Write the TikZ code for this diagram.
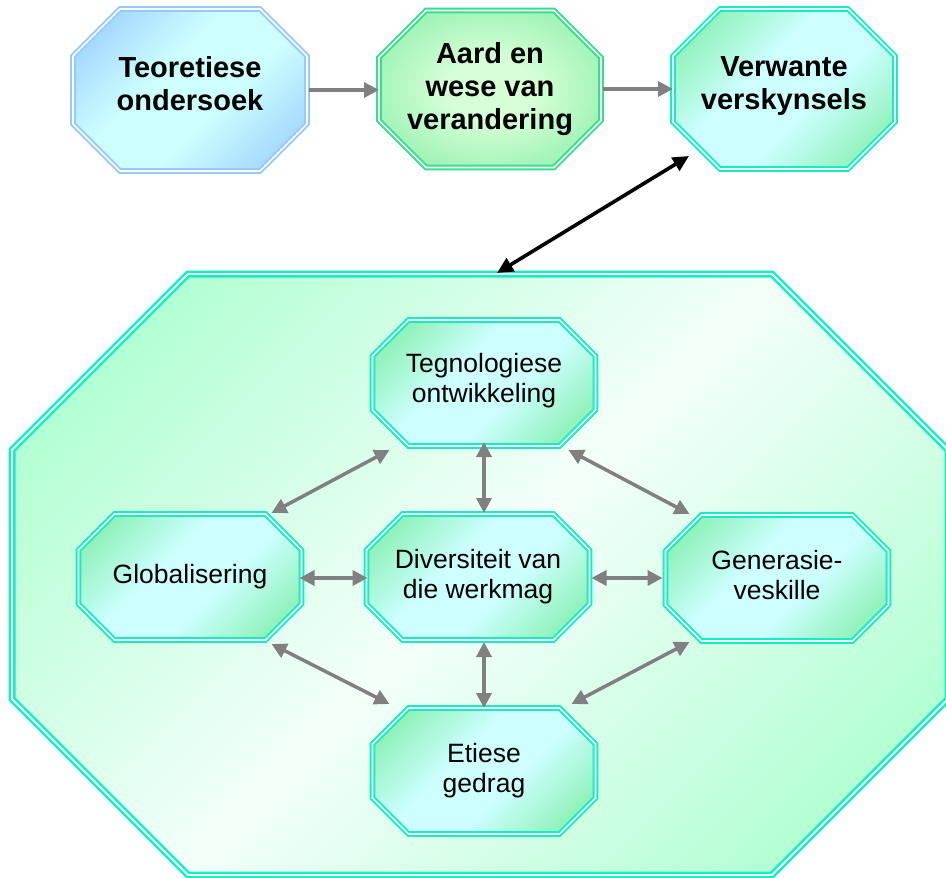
\documentclass[tikz,border=0pt]{standalone}
\usepackage{fontspec}
\setmainfont{Liberation Sans}
\usetikzlibrary{arrows.meta,calc,backgrounds}

% palette
\definecolor{turq}{RGB}{16,240,196}
\definecolor{leafline}{RGB}{52,224,140}
\definecolor{blueline}{RGB}{150,202,252}
\definecolor{blueedge}{RGB}{150,200,255}
\definecolor{bluemid}{RGB}{205,255,255}
\definecolor{greenedge}{RGB}{120,236,160}
\definecolor{cyanmid}{RGB}{205,255,255}
\definecolor{leafedge}{RGB}{138,238,170}
\definecolor{leafmid}{RGB}{214,255,214}
\definecolor{paneledge}{RGB}{172,255,208}
\definecolor{panelmid}{RGB}{244,255,250}
\definecolor{arrowgray}{RGB}{128,128,128}

% diagonal fills: edge colour in two opposite corners, light band across the middle
\pgfdeclarehorizontalshading{bluefill}{100bp}{color(0bp)=(blueedge); color(15bp)=(blueedge); color(42bp)=(bluemid); color(58bp)=(bluemid); color(85bp)=(blueedge); color(100bp)=(blueedge)}
\pgfdeclarehorizontalshading{greenfill}{100bp}{color(0bp)=(greenedge); color(15bp)=(greenedge); color(42bp)=(cyanmid); color(58bp)=(cyanmid); color(85bp)=(greenedge); color(100bp)=(greenedge)}
\pgfdeclarehorizontalshading{panelfill}{100bp}{color(0bp)=(paneledge); color(20bp)=(paneledge); color(50bp)=(panelmid); color(80bp)=(paneledge); color(100bp)=(paneledge)}
% soft glow: pale centre, green rim
\pgfdeclareradialshading{leafglow}{\pgfpoint{0bp}{0bp}}{color(0bp)=(leafmid); color(10bp)=(leafmid); color(34bp)=(leafedge); color(50bp)=(leafedge)}

% octagon outline around a named rectangle node: style, node, corner cut
\newcommand{\octframe}[3]{%
  \path[#1] ($(#2.north west)+(#3,0)$) -- ($(#2.north east)+(-#3,0)$)
    -- ($(#2.north east)+(0,#3)$) -- ($(#2.south east)+(0,-#3)$)
    -- ($(#2.south east)+(-#3,0)$) -- ($(#2.south west)+(#3,0)$)
    -- ($(#2.south west)+(0,-#3)$) -- ($(#2.north west)+(0,#3)$) -- cycle;}

\tikzset{
  box/.style={rectangle, inner sep=0pt, outer sep=0pt, align=center, text=black},
  headbox/.style={box, font=\bfseries\fontsize{29pt}{33pt}\selectfont},
  itembox/.style={box, font=\fontsize{26.5pt}{30pt}\selectfont, minimum width=223pt, minimum height=126pt},
  frameline/.style={line width=2pt, double=white, double distance=1.6pt, line join=miter},
  bluefr/.style={frameline, draw=blueline, shading=bluefill, shading angle=-45},
  leaffr/.style={frameline, draw=leafline, shading=leafglow},
  greenfr/.style={frameline, draw=turq, shading=greenfill, shading angle=-45},
  panelfr/.style={line width=2.6pt, double=white, double distance=1.8pt, draw=turq, shading=panelfill, shading angle=-45},
  link/.style={draw=arrowgray, line width=3.5pt, {Triangle[length=15pt,width=15pt]}-{Triangle[length=15pt,width=15pt]}},
  flow/.style={draw=arrowgray, line width=3.5pt, -{Triangle[length=15pt,width=15pt]}},
  bond/.style={draw=black, line width=3.6pt, {Triangle[length=16pt,width=15pt]}-{Triangle[length=16pt,width=15pt]}}
}

\begin{document}
\begin{tikzpicture}[x=1pt, y=-1pt]
  \useasboundingbox (0,0) rectangle (946,878);
  \clip (0,0) rectangle (946,878);

  % upper row
  \node[headbox, minimum width=234pt, minimum height=162pt, text depth=14pt] (theory)  at (190,90) {Teoretiese\\ondersoek};
  \node[headbox, minimum width=222pt, minimum height=157pt] (nature)  at (490,89) {Aard en\\wese van\\verandering};
  \node[headbox, minimum width=222pt, minimum height=160pt, text depth=12pt] (related) at (784,89) {Verwante\\verskynsels};

  % large panel and its items
  \node[box, minimum width=936pt, minimum height=601pt] (panel) at (480,574.5) {};
  \node[itembox, text depth=9.5pt] (tech) at (484,383) {Tegnologiese\\ontwikkeling};
  \node[itembox] (div)  at (478,577) {Diversiteit van\\die werkmag};
  \node[itembox] (glob) at (190,577) {Globalisering};
  \node[itembox, text depth=6pt] (gen)  at (777,578) {Generasie-\\veskille};
  \node[itembox] (eth)  at (484,771) {Etiese\\gedrag};

  \begin{scope}[on background layer]
    \octframe{panelfr}{panel}{176}
    \octframe{bluefr}{theory}{47}
    \octframe{leaffr}{nature}{47}
    \octframe{greenfr}{related}{47}
    \octframe{greenfr}{tech}{36}
    \octframe{greenfr}{div}{36}
    \octframe{greenfr}{glob}{36}
    \octframe{greenfr}{gen}{36}
    \octframe{greenfr}{eth}{36}
  \end{scope}

  % upper row flow
  \draw[flow] ($(theory.east)+(2,0)$) -- (theory.east -| nature.west);
  \draw[flow] ($(nature.east)+(2,0)$) -- (nature.east -| related.west);

  % link between the upper row and the panel
  \draw[bond] ($(panel.north)+(17,-1)$) -- ($(related.south west)+(16,-13)$);

  % links inside the panel
  \draw[link] ($(glob.east)+(-2,1)$) -- ($(glob.east -| div.west)+(1,1)$);
  \draw[link] ($(div.east)+(2,1)$) -- ($(div.east -| gen.west)+(-3,1)$);
  \draw[link] ($(tech.south)+(0,-4)$) -- ($(tech.south |- div.north)+(0,-1)$);
  \draw[link] ($(div.south |- eth.north)+(6,0)$) -- ($(div.south)+(6,2)$);
  \draw[link] ($(tech.south west)+(17,4)$) -- ($(glob.north east)+(-30,-1)$);
  \draw[link] ($(tech.south east)+(-27,4)$) -- ($(gen.north west)+(24,-1)$);
  \draw[link] ($(glob.south east)+(-30,4)$) -- ($(eth.north west)+(17,-4)$);
  \draw[link] ($(gen.south west)+(24,1)$) -- ($(eth.north east)+(-24,-4)$);
\end{tikzpicture}
\end{document}
